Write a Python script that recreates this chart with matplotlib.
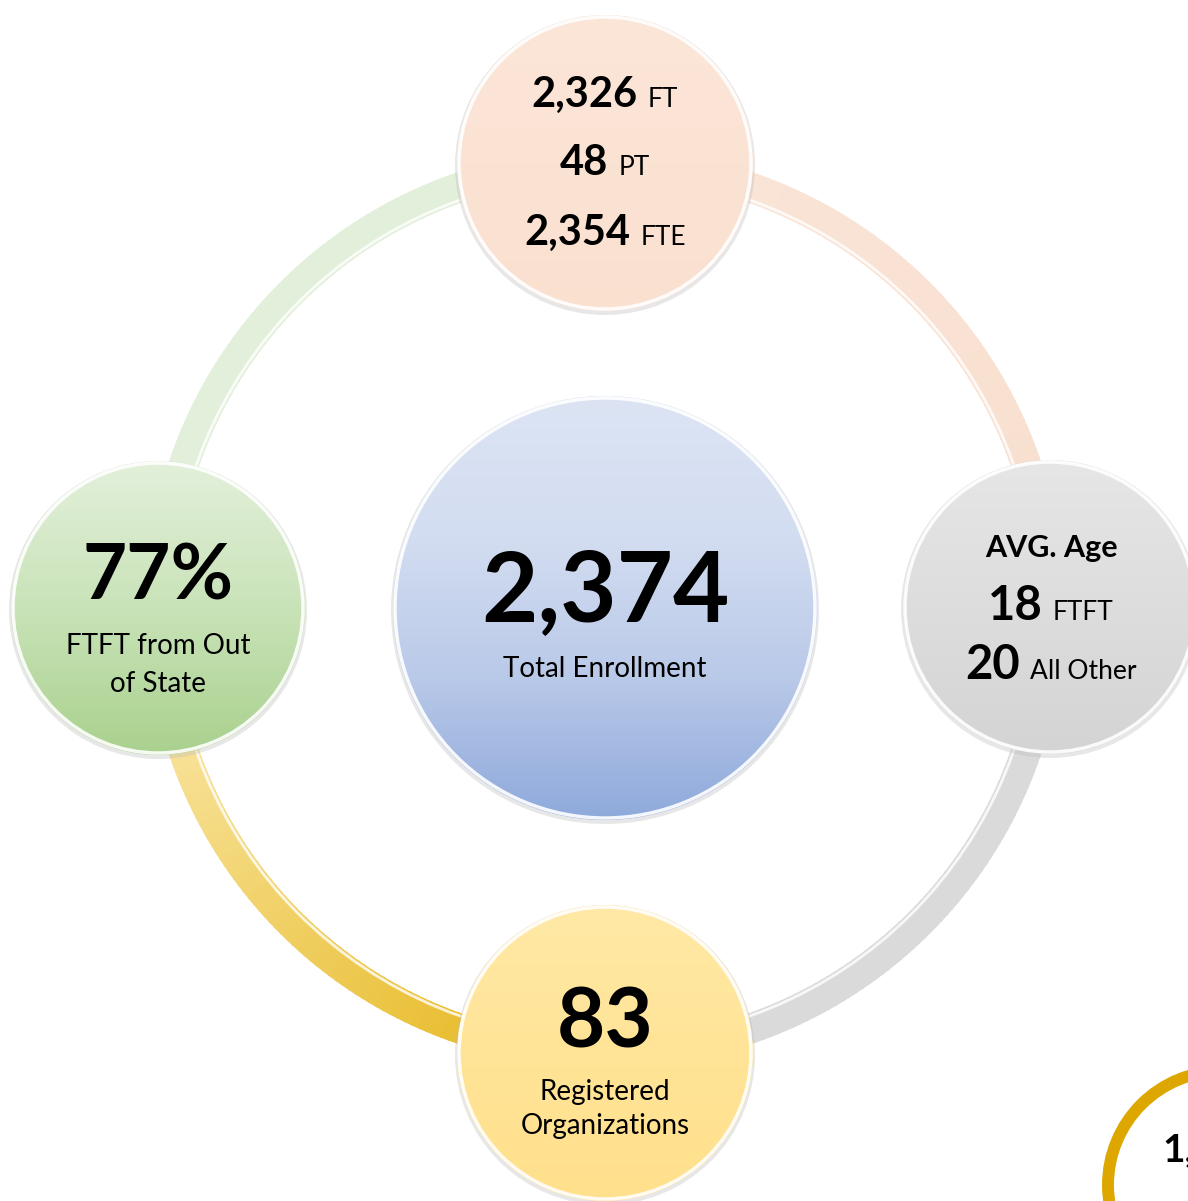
import numpy as np
import matplotlib.pyplot as plt
from matplotlib.patches import Circle, Wedge
from matplotlib.colors import to_rgb, LinearSegmentedColormap

plt.rcParams['font.family'] = ['Lato', 'DejaVu Sans']

W, H = 1188, 1201

# ring hub and satellites (image coords, y down)
hub = (605, 608)
ring_r = 445
ring_w = 30

# ring quadrants: start angle, end angle, colour at start, colour at end
ring_segs = [
    (0, 90, '#F8DFCF', '#FAE5D8'),
    (90, 180, '#E2EFDA', '#E2EFDA'),
    (180, 270, '#FCEDB8', '#E4B210'),
    (270, 360, '#DADADA', '#DADADA'),
]

# circles: centre x, centre y, radius, gradient stops from top to bottom
circles = {
    'top':    (605, 163, 148, ['#FCE6D8', '#FBE3D4', '#FAE0CF']),
    'left':   (158, 608, 147, ['#E3F0DB', '#C9E3B8', '#A9D18E']),
    'centre': (605, 608, 212, ['#DCE4F4', '#D3DDF1', '#B9C9E8', '#8EA9DB']),
    'right':  (1050, 607, 147, ['#E6E6E6', '#DDDDDD', '#D4D4D4']),
    'bottom': (605, 1053, 148, ['#FFE9A6', '#FFE497', '#FFE08C']),
}

top_lines = [('2,326', 'FT', 107), ('48', 'PT', 175), ('2,354', 'FTE', 245)]
age_lines = [('18', 'FTFT', 620), ('20', 'All Other', 679)]

fig = plt.figure(figsize=(W / 100, H / 100), dpi=100)
ax = fig.add_axes([0, 0, 1, 1])
ax.set_xlim(0, W)
ax.set_ylim(0, H)
ax.axis('off')


def Y(y):
    return H - y


# ring drawn as many small wedges so the colour can shade along it
for a0, a1, c0, c1 in ring_segs:
    n = 90
    c0, c1 = np.array(to_rgb(c0)), np.array(to_rgb(c1))
    edges = np.linspace(a0, a1, n + 1)
    for i in range(n):
        t = i / (n - 1)
        col = c0 + (c1 - c0) * t
        ax.add_patch(Wedge((hub[0], Y(hub[1])), ring_r + ring_w / 2, edges[i], edges[i + 1] + 0.3,
                           width=ring_w, facecolor=col, edgecolor='none', zorder=1))

# thin white highlight on the inner side of the ring
ax.add_patch(Circle((hub[0], Y(hub[1])), ring_r - ring_w / 2 + 3, facecolor='none',
                    edgecolor='white', lw=2, alpha=0.8, zorder=1.5))

for name, (cx, cy, r, stops) in circles.items():
    # soft shadow
    ax.add_patch(Circle((cx, Y(cy) - 2), r + 2, facecolor='#BBBBBB', edgecolor='none',
                        alpha=0.35, zorder=2))
    clip = Circle((cx, Y(cy)), r, facecolor='none', edgecolor='none', zorder=3)
    ax.add_patch(clip)
    cmap = LinearSegmentedColormap.from_list(name, stops[::-1])
    grad = np.linspace(0, 1, 256).reshape(-1, 1)
    im = ax.imshow(grad, cmap=cmap, extent=(cx - r, cx + r, Y(cy) - r, Y(cy) + r),
                   origin='lower', aspect='auto', zorder=3)
    im.set_clip_path(clip)
    ax.add_patch(Circle((cx, Y(cy)), r - 2, facecolor='none', edgecolor='white',
                        lw=2.5, alpha=0.9, zorder=4))

# partial gold ring at bottom right corner
ax.add_patch(Circle((1222, Y(1185)), 114, facecolor='white', edgecolor='#DDA700',
                    lw=8.6, zorder=2))
ax.text(1162, Y(1161), '1,234', fontsize=28, weight='bold', ha='left', va='baseline', zorder=5)

ax.set_xlim(0, W)
ax.set_ylim(0, H)

renderer = fig.canvas.get_renderer()


def pair(cx, y, big, small, bsize, ssize, gap=10):
    t1 = ax.text(0, Y(y), big, fontsize=bsize, weight='bold', ha='left', va='baseline', zorder=6)
    t2 = ax.text(0, Y(y), small, fontsize=ssize, ha='left', va='baseline', zorder=6)
    w1 = t1.get_window_extent(renderer).width
    w2 = t2.get_window_extent(renderer).width
    x0 = cx - (w1 + gap + w2) / 2
    t1.set_x(x0)
    t2.set_x(x0 + w1 + gap)


# top circle
for big, small, y in top_lines:
    pair(605, y, big, small, 30, 19)

# centre circle
ax.text(605, Y(622), '2,374', fontsize=70, weight='bold', ha='center', va='baseline', zorder=6)
ax.text(605, Y(677), 'Total Enrollment', fontsize=20, ha='center', va='baseline', zorder=6)

# left circle
ax.text(158, Y(600), '77%', fontsize=55, weight='bold', ha='center', va='baseline', zorder=6)
ax.text(158, Y(654), 'FTFT from Out', fontsize=20, ha='center', va='baseline', zorder=6)
ax.text(158, Y(692), 'of State', fontsize=20, ha='center', va='baseline', zorder=6)

# right circle
ax.text(1051, Y(557), 'AVG. Age', fontsize=22, weight='bold', ha='center', va='baseline', zorder=6)
for big, small, y in age_lines:
    pair(1051, y, big, small, 34, 19)

# bottom circle
ax.text(605, Y(1047), '83', fontsize=60, weight='bold', ha='center', va='baseline', zorder=6)
ax.text(605, Y(1100), 'Registered', fontsize=20, ha='center', va='baseline', zorder=6)
ax.text(605, Y(1134), 'Organizations', fontsize=20, ha='center', va='baseline', zorder=6)

fig.savefig('out.png', dpi=100, facecolor='white')
